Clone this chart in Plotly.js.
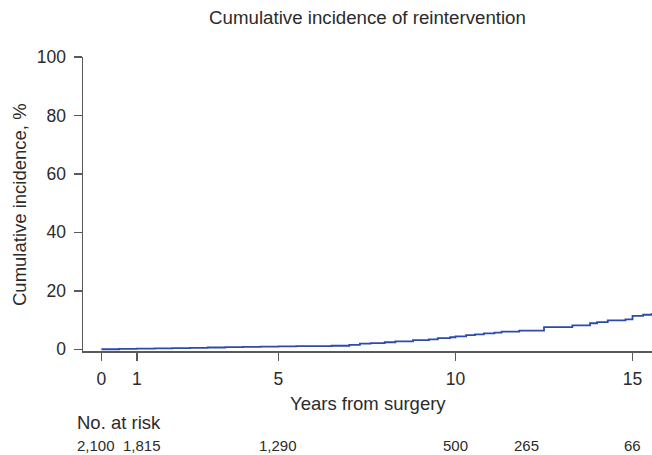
<!DOCTYPE html>
<html>
<head>
<meta charset="utf-8">
<script src="https://cdn.plot.ly/plotly-3.0.1.min.js"></script>
<style>html,body{margin:0;padding:0;background:#fff;}#chart{width:652px;height:455px;}</style>
</head>
<body>
<div id="chart"></div>
<script>
// Cumulative incidence of reintervention (step function)
const years = [0, 0.5, 1, 1.5, 2, 2.5, 3, 3.5, 4, 4.5, 5, 5.5, 6, 6.5, 7.0, 7.3, 7.6, 8.0, 8.3, 8.8, 9.25, 9.5, 9.85, 10.0, 10.3, 10.55, 10.8, 11.1, 11.3, 11.8, 12.5, 13.3, 13.8, 14.0, 14.3, 14.8, 15.0, 15.3, 15.55];
const incidence = [0, 0.1, 0.2, 0.3, 0.4, 0.5, 0.6, 0.7, 0.8, 0.9, 1.0, 1.05, 1.1, 1.2, 1.5, 1.9, 2.1, 2.4, 2.7, 3.1, 3.4, 3.8, 4.1, 4.4, 4.8, 5.1, 5.4, 5.7, 6.0, 6.4, 7.6, 8.2, 8.9, 9.3, 9.9, 10.2, 11.4, 11.8, 12.4];

const xTicks = [0, 1, 5, 10, 15];
const yTicks = [0, 20, 40, 60, 80, 100];

const riskYears = [0, 1, 5, 10, 12, 15];
const riskLabels = ['2,100', '1,815', '1,290', '500', '265', '66'];
const riskShift = [-5, 5, 0, 0, 0, 0];

const FONT = 'Liberation Sans, Arial, Helvetica, sans-serif';
const TXT = '#2b2b2b';
const AX = '#5a5a5a';

const trace = {
  x: years, y: incidence, type: 'scatter', mode: 'lines',
  line: {shape: 'hv', color: '#2b4baf', width: 1.8},
  hoverinfo: 'skip'
};

const annotations = [
  {text: 'Years from surgery', xref: 'paper', yref: 'paper', x: 0.5, y: -0.177, xanchor: 'center', yanchor: 'middle', showarrow: false, font: {family: FONT, size: 18.5, color: TXT}},
  {text: 'Cumulative incidence, %', xref: 'paper', yref: 'paper', x: -0.1125, y: 0.5, xanchor: 'center', yanchor: 'middle', textangle: -90, showarrow: false, font: {family: FONT, size: 18.5, color: TXT}},
  {text: 'No. at risk', xref: 'paper', yref: 'paper', x: -0.014, y: -0.2415, xanchor: 'left', yanchor: 'middle', showarrow: false, font: {family: FONT, size: 18.5, color: TXT}}
];
riskYears.forEach((yr, i) => {
  annotations.push({text: riskLabels[i], xref: 'x', yref: 'paper', x: yr, y: -0.32, xshift: riskShift[i], xanchor: 'center', yanchor: 'middle', showarrow: false, font: {family: FONT, size: 15, color: TXT}});
});

const layout = {
  width: 652, height: 455,
  margin: {l: 83, r: 0, t: 57, b: 104, pad: 0},
  paper_bgcolor: '#fff', plot_bgcolor: '#fff',
  showlegend: false,
  font: {family: FONT, color: TXT},
  title: {text: 'Cumulative incidence of reintervention', xref: 'paper', x: 0.5, xanchor: 'center', yref: 'container', y: 0.962, yanchor: 'middle', font: {family: FONT, size: 18.7, color: TXT}},
  xaxis: {
    range: [-0.52, 15.55], tickvals: xTicks, ticktext: xTicks.map(String),
    showline: true, linecolor: AX, linewidth: 1.5, mirror: false,
    ticks: 'outside', ticklen: 8, tickwidth: 1.5, tickcolor: AX,
    showgrid: false, zeroline: false,
    tickfont: {family: FONT, size: 17.5, color: TXT}, ticklabelstandoff: 3,
    fixedrange: true
  },
  yaxis: {
    range: [-0.6, 100], tickvals: yTicks, ticktext: yTicks.map(String),
    showline: true, linecolor: AX, linewidth: 1.5, mirror: false,
    ticks: 'outside', ticklen: 8, tickwidth: 1.5, tickcolor: AX,
    showgrid: false, zeroline: false,
    tickfont: {family: FONT, size: 17.5, color: TXT}, ticklabelstandoff: 4,
    fixedrange: true
  },
  annotations: annotations
};

Plotly.newPlot('chart', [trace], layout, {displayModeBar: false, staticPlot: true});
</script>
</body>
</html>
